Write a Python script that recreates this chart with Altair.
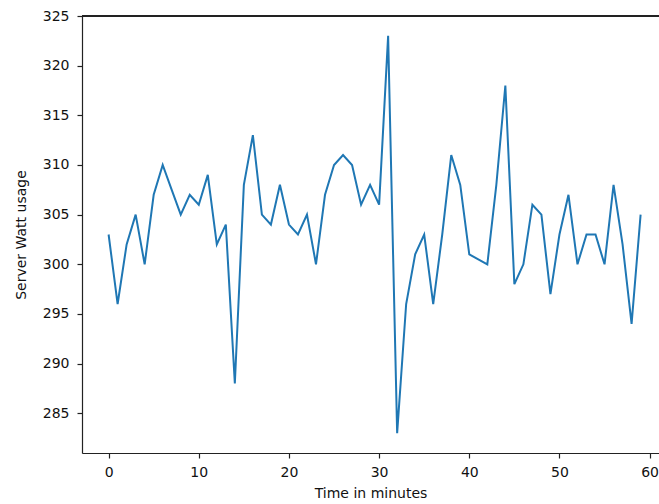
import altair as alt
import pandas as pd

# Server power draw sampled once per minute
minutes = list(range(60))
watts = [
    303, 296, 302, 305, 300, 307, 310, 307.5, 305, 307,
    306, 309, 302, 304, 288, 308, 313, 305, 304, 308,
    304, 303, 305, 300, 307, 310, 311, 310, 306, 308,
    306, 323, 283, 296, 301, 303, 296, 303, 311, 308,
    301, 300.5, 300, 308, 318, 298, 300, 306, 305, 297,
    303, 307, 300, 303, 303, 300, 308, 302, 294, 305,
]
x_ticks = [0, 10, 20, 30, 40, 50, 60]
y_ticks = [285, 290, 295, 300, 305, 310, 315, 320, 325]

df = pd.DataFrame({"minute": minutes, "watts": watts})

W, H = 577, 437
FONT = "DejaVu Sans"
AXIS_COLOR = "#222222"

common = dict(grid=False, domainColor=AXIS_COLOR, tickColor=AXIS_COLOR, tickSize=5,
              labelFontSize=14, titleFontSize=14, labelColor="#111111",
              titleColor="#111111", titleFontWeight="normal", labelFont=FONT,
              titleFont=FONT, labelFlush=False, domainWidth=1.2, tickWidth=1.2)

line = alt.Chart(df).mark_line(color="#1f77b4", strokeWidth=2, clip=True).encode(
    x=alt.X(
        "minute:Q",
        title="Time in minutes",
        scale=alt.Scale(domain=[-2.95, 61.04], nice=False, zero=False),
        axis=alt.Axis(values=x_ticks, labelPadding=7, titlePadding=7, **common),
    ),
    y=alt.Y(
        "watts:Q",
        title="Server Watt usage",
        scale=alt.Scale(domain=[281, 325], nice=False, zero=False),
        axis=alt.Axis(values=y_ticks, labelPadding=8, titlePadding=14, **common),
    ),
)

# top spine
top = alt.Chart(df).mark_rule(color=AXIS_COLOR, strokeWidth=1.2).encode(
    x=alt.value(0), x2=alt.value(W), y=alt.value(0)
)

chart = (
    alt.layer(line, top)
    .properties(width=W, height=H, padding={"left": 82, "top": 16, "right": 0, "bottom": 51},
                autosize=alt.AutoSizeParams(type="none"))
    .configure_view(stroke=None)
    .configure(background="white")
)

chart.save("out.html", embed_options={"renderer": "svg", "actions": False})
